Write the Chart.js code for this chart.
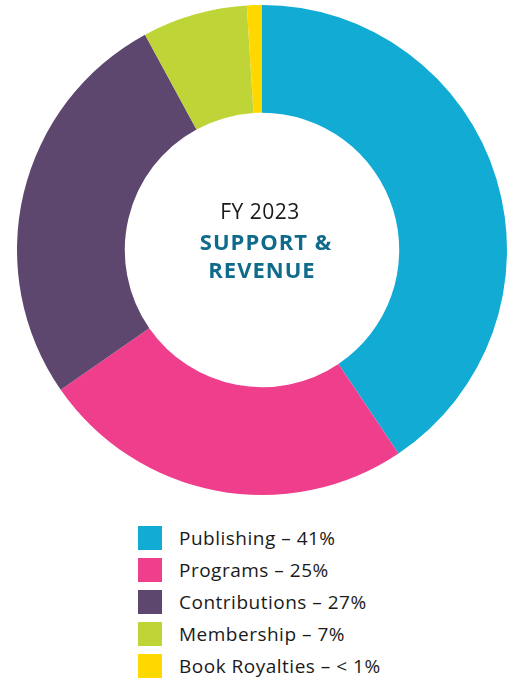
<!DOCTYPE html>
<html>
<head>
<meta charset="utf-8">
<script src="https://cdn.jsdelivr.net/npm/chart.js@4/dist/chart.umd.min.js"></script>
<style>
  html, body { margin: 0; padding: 0; background: #fff; }
  body { width: 515px; height: 681px; overflow: hidden; font-family: "Open Sans", sans-serif; }
  #wrap { position: relative; width: 515px; height: 500px; }
  #legend { list-style: none; margin: 0; padding: 0; position: absolute; left: 138px; top: 522px; }
  #legend li { display: flex; align-items: center; height: 32px; font-size: 19px; letter-spacing: 0.5px; color: #1a1a1a; }
  #legend span.box { width: 24px; height: 24px; margin-right: 17px; display: inline-block; }
</style>
</head>
<body>
<div id="wrap"><canvas id="donut"></canvas></div>
<ul id="legend"></ul>
<script>
const labels = ['Publishing', 'Programs', 'Contributions', 'Membership', 'Book Royalties'];
const values = [41, 25, 27, 7, 1];
const legendText = ['41%', '25%', '27%', '7%', '< 1%'];
const colors = ['#12abd4', '#ef3e8c', '#5e476e', '#bfd437', '#ffd800'];
const centerTitle = 'FY 2023';
const centerLines = ['SUPPORT &', 'REVENUE'];

// legend built from the same arrays
const legend = document.getElementById('legend');
labels.forEach((label, i) => {
    const li = document.createElement('li');
    li.innerHTML = '<span class="box" style="background:' + colors[i] + '"></span>' +
        label + ' \u2013 ' + legendText[i];
    legend.appendChild(li);
});

const centerText = {
    id: 'centerText',
    afterDraw(chart) {
        const meta = chart.getDatasetMeta(0).data[0];
        if (!meta) return;
        const ctx = chart.ctx;
        const x = meta.x, y = meta.y;
        ctx.save();
        ctx.textAlign = 'center';
        ctx.textBaseline = 'middle';
        ctx.fillStyle = '#1a1a1a';
        ctx.letterSpacing = '0.5px';
        ctx.font = '21px "Open Sans"';
        ctx.fillText(centerTitle, x - 2, y - 37);
        ctx.fillStyle = '#0f6a8c';
        ctx.letterSpacing = '1px';
        ctx.font = 'bold 22px "Open Sans"';
        ctx.fillText(centerLines[0], x + 4, y - 6);
        ctx.fillText(centerLines[1], x, y + 22);
        ctx.restore();
    }
};

new Chart(document.getElementById('donut').getContext('2d'), {
    type: 'doughnut',
    data: {
        labels: labels,
        datasets: [{
            data: values,
            backgroundColor: colors,
            borderWidth: 0,
        }],
    },
    options: {
        responsive: true,
        maintainAspectRatio: false,
        animation: false,
        cutout: '56%',
        layout: { padding: { left: 9, right: 0, top: 5, bottom: 5 } },
        plugins: {
            legend: { display: false },
            tooltip: { enabled: false },
        },
    },
    plugins: [centerText],
});
</script>
</body>
</html>
